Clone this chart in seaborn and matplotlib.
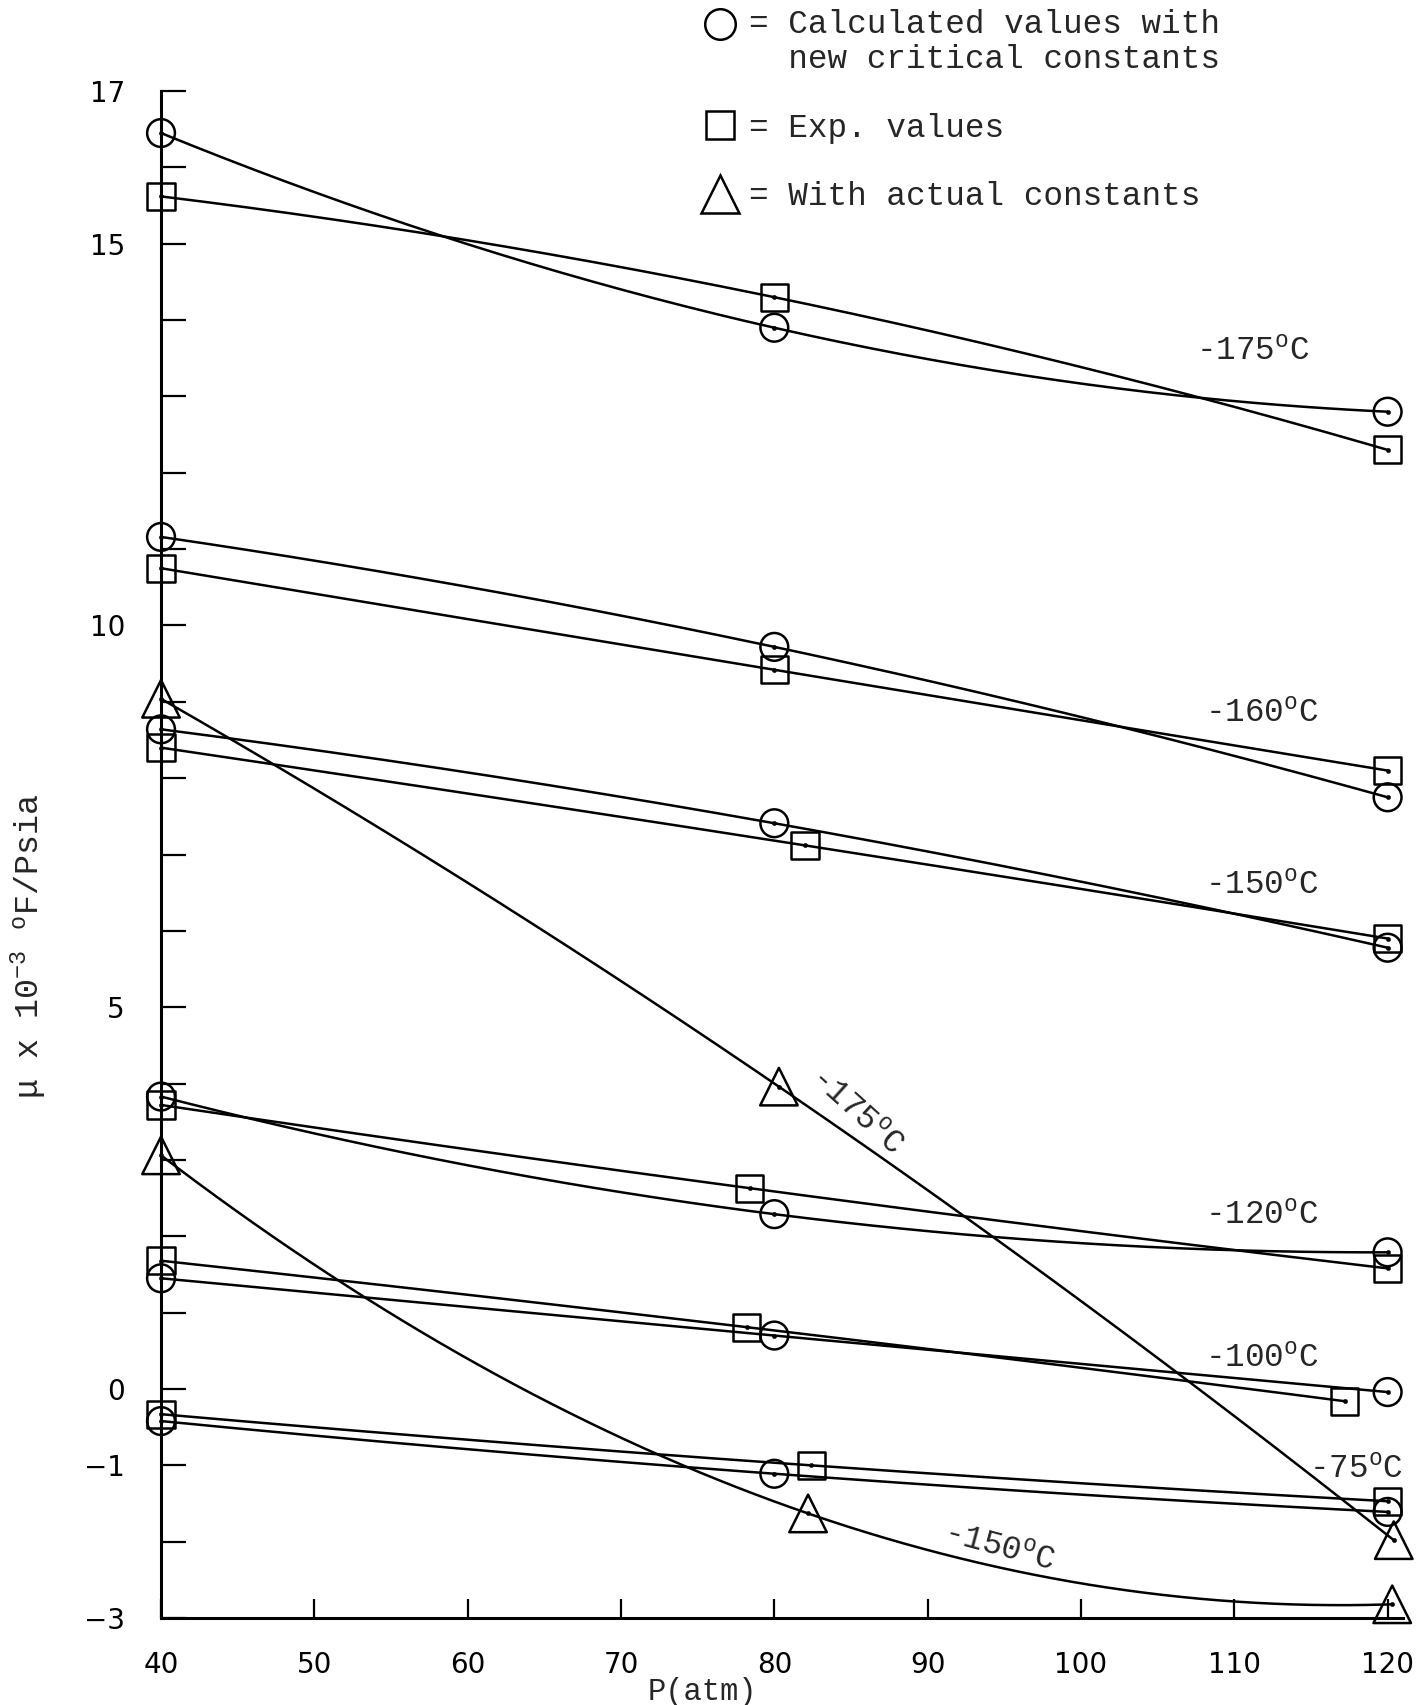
import numpy as np
import matplotlib
matplotlib.use("Agg")
import matplotlib.pyplot as plt
import matplotlib.transforms as mtransforms
from matplotlib.lines import Line2D
from matplotlib.legend_handler import HandlerLine2D
import seaborn as sns

# pressure of the plotted points (atm)
p_std = [40, 80, 120]

# circles = calculated values with new critical constants
calc_175 = [16.45, 13.90, 12.80]
calc_160 = [11.16, 9.72, 7.75]
calc_150 = [8.64, 7.41, 5.78]
calc_120 = [3.83, 2.29, 1.79]
calc_100 = [1.45, 0.70, -0.04]
calc_75 = [-0.42, -1.11, -1.61]

# squares = experimental values
exp_175_p, exp_175 = [40, 80, 120], [15.62, 14.30, 12.30]
exp_160_p, exp_160 = [40, 80, 120], [10.75, 9.42, 8.10]
exp_150_p, exp_150 = [40, 82, 120], [8.40, 7.12, 5.90]
exp_120_p, exp_120 = [40, 78.4, 120], [3.72, 2.63, 1.58]
exp_100_p, exp_100 = [40, 78.2, 117.2], [1.68, 0.81, -0.16]
exp_75_p, exp_75 = [40, 82.4, 120], [-0.33, -1.00, -1.47]

# triangles = with actual constants
act_175_p, act_175 = [40, 80.3, 120.4], [9.04, 3.96, -1.98]
act_150_p, act_150 = [40, 82.2, 120.3], [3.06, -1.63, -2.82]

temps = ["-175", "-160", "-150", "-120", "-100", "-75"]
x_ticks = [40, 50, 60, 70, 80, 90, 100, 110, 120]
y_labelled = {17: "17", 15: "15", 10: "10", 5: "5", 0: "0", -1: "\u22121", -3: "\u22123"}

sns.set_style("white")
plt.rcParams["font.family"] = ["Liberation Mono", "DejaVu Sans"]
plt.rcParams["mathtext.fontset"] = "custom"
plt.rcParams["mathtext.rm"] = "Liberation Mono"
plt.rcParams["mathtext.it"] = "Liberation Mono"

MONO = 23.5
LW = 1.8

fig = plt.figure(figsize=(14.2, 17.05), dpi=100)
ax = fig.add_axes([0.1134, 0.0510, 0.8746, 0.8956])


def smooth(px, py):
    coef = np.polyfit(px, py, 2)
    xs = np.linspace(min(px), max(px), 200)
    return xs, np.polyval(coef, xs)


def draw_series(px, py, marker, size):
    xs, ys = smooth(px, py)
    sns.lineplot(x=xs, y=ys, color="black", linewidth=LW, estimator=None,
                 sort=False, ax=ax, legend=False)
    sns.scatterplot(x=px, y=py, marker=marker, s=size, facecolor="none",
                    edgecolor="black", linewidth=LW, clip_on=False, zorder=3,
                    ax=ax, legend=False)
    sns.scatterplot(x=px, y=py, marker="o", s=10, color="black",
                    edgecolor="black", clip_on=False, zorder=4, ax=ax, legend=False)


for vals in [calc_175, calc_160, calc_150, calc_120, calc_100, calc_75]:
    draw_series(p_std, vals, "o", 20 ** 2)

for px, vals in [(exp_175_p, exp_175), (exp_160_p, exp_160), (exp_150_p, exp_150),
                 (exp_120_p, exp_120), (exp_100_p, exp_100), (exp_75_p, exp_75)]:
    draw_series(px, vals, "s", 19.5 ** 2)

for px, vals in [(act_175_p, act_175), (act_150_p, act_150)]:
    draw_series(px, vals, "^", 27 ** 2)

# curve labels
deg = r"$^{\rm o}$C"
label_pos = [(111.2, 13.58), (111.8, 8.84), (111.8, 6.59), (111.8, 2.27),
             (111.8, 0.39), (117.9, -1.06)]
for t, (lx, ly) in zip(temps, label_pos):
    ax.text(lx, ly, t + deg, fontsize=MONO, ha="center", va="center")
ax.text(85.3, 3.63, temps[0] + deg, fontsize=MONO, ha="center", va="center",
        rotation=-42, rotation_mode="anchor")
ax.text(94.6, -2.08, temps[2] + deg, fontsize=MONO, ha="center", va="center",
        rotation=-15, rotation_mode="anchor")

# axes
ax.set_xlim(40, 121)
ax.set_ylim(-3, 17)
for side in ["top", "right"]:
    ax.spines[side].set_visible(False)
for side in ["left", "bottom"]:
    ax.spines[side].set_linewidth(2.2)
    ax.spines[side].set_color("black")

ax.set_xticks(x_ticks)
ax.set_xticklabels([str(v) for v in x_ticks], fontfamily="DejaVu Sans")
y_ticks = list(range(-3, 18))
ax.set_yticks(y_ticks)
ax.set_yticklabels([y_labelled.get(v, "") for v in y_ticks], fontfamily="DejaVu Sans")
ax.tick_params(axis="x", direction="in", length=14, width=1.6, pad=24,
               labelsize=20, colors="black", bottom=True)
ax.tick_params(axis="y", direction="in", length=18, width=1.6, pad=26,
               labelsize=20, colors="black", left=True)

ax.set_xlabel("P(atm)", fontsize=22)
ax.xaxis.set_label_coords(0.436, -0.0385)
ax.set_ylabel("\u03bc x 10$^{-3}$ $^{\\rm o}$F/Psia", fontsize=24)
ax.yaxis.set_label_coords(-0.09, 0.44)


# legend
class RaisedHandler(HandlerLine2D):
    def __init__(self, dy, **kw):
        super().__init__(**kw)
        self.dy = dy

    def create_artists(self, legend, orig_handle, xdescent, ydescent,
                       width, height, fontsize, trans):
        shifted = mtransforms.Affine2D().translate(0, self.dy) + trans
        return super().create_artists(legend, orig_handle, xdescent, ydescent,
                                      width, height, fontsize, shifted)


h_circ = Line2D([], [], marker="o", markersize=22, markerfacecolor="none",
                markeredgecolor="black", markeredgewidth=LW, linestyle="none")
h_sq = Line2D([], [], marker="s", markersize=20, markerfacecolor="none",
              markeredgecolor="black", markeredgewidth=LW, linestyle="none")
h_tri = Line2D([], [], marker="^", markersize=27, markerfacecolor="none",
               markeredgecolor="black", markeredgewidth=LW, linestyle="none")
leg = ax.legend([h_circ, h_sq, h_tri],
                ["= Calculated values with\n  new critical constants",
                 "= Exp. values", "= With actual constants"],
                loc="upper left", bbox_to_anchor=(0.494, 0.995),
                bbox_transform=fig.transFigure, frameon=False,
                fontsize=MONO, handlelength=1.15, handletextpad=0.3,
                labelspacing=1.15, borderpad=0, borderaxespad=0,
                handler_map={h_circ: RaisedHandler(dy=13)})

fig.savefig("out.png", dpi=100, facecolor="white")
